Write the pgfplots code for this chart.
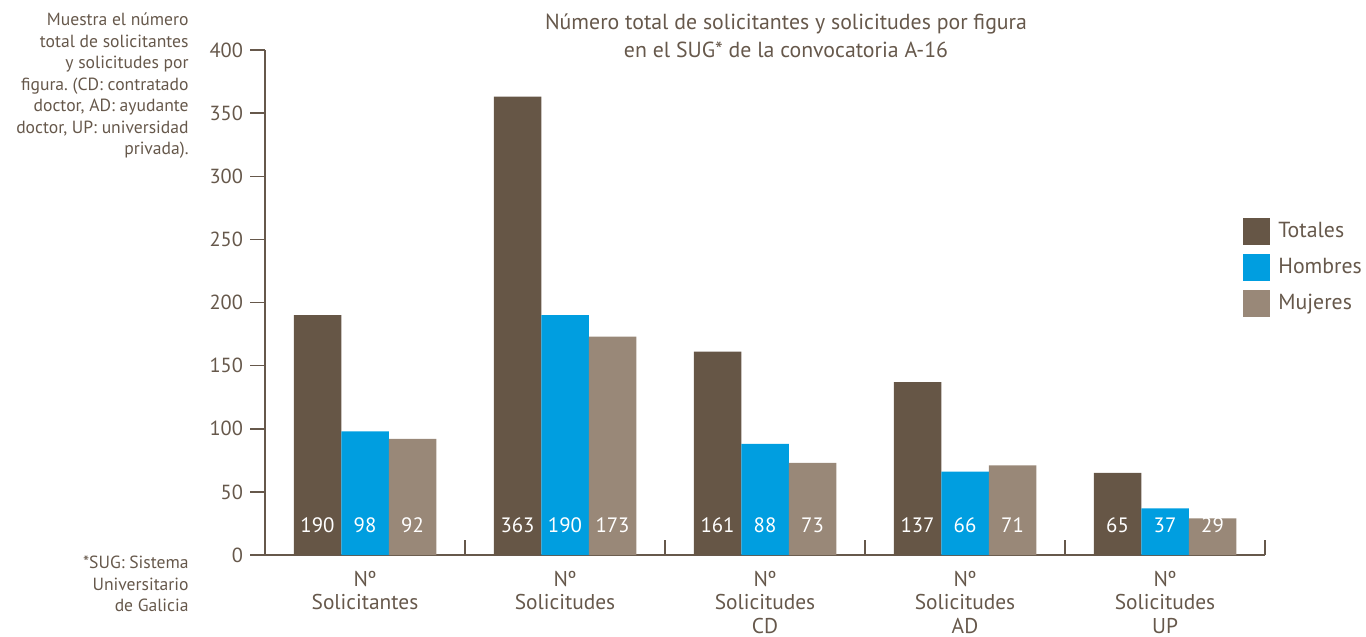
\documentclass[border=0pt]{standalone}
\usepackage{fontspec}
\setmainfont{PT Sans}
\usepackage{pgfplots}
\pgfplotsset{compat=1.18}
\definecolor{txt}{HTML}{66584B}
\definecolor{cTot}{HTML}{665646}
\definecolor{cHom}{HTML}{009EE0}
\definecolor{cMuj}{HTML}{998878}
\pgfkeys{/pgf/number format/assume math mode=true}
\frenchspacing

\begin{document}
\begin{tikzpicture}
\useasboundingbox (0pt,0pt) rectangle (683pt,318.5pt);
% side notes
\node[anchor=east, align=right, inner sep=0pt, text=txt,
      font=\fontsize{8.8}{10.75}\selectfont] at (94.5pt,275.5pt)
  {Muestra el número\\total de solicitantes\\y solicitudes por\\figura. (CD: contratado\\doctor, AD: ayudante\\doctor, UP: universidad\\privada).};
\node[anchor=east, align=right, inner sep=0pt, text=txt,
      font=\fontsize{8.8}{10.75}\selectfont] at (94.5pt,26.5pt)
  {*SUG: Sistema\\Universitario\\de Galicia};
\node[align=center, inner sep=0pt, text=txt,
      font=\fontsize{10.9}{14}\selectfont] at (393pt,300.5pt)
  {Número total de solicitantes y solicitudes por figura\\en el SUG* de la convocatoria A-16};

\begin{axis}[
    at={(132.5pt,41pt)}, anchor=south west,
    scale only axis, width=500pt, height=252.5pt,
    ybar=0pt, bar width=0.2375,
    xmin=-0.5, xmax=4.5, ymin=0, ymax=400,
    enlargelimits=false,
    axis lines*=left,
    axis line style={txt, line width=0.75pt, -},
    tick style={txt, line width=0.75pt},
    tick align=outside,
    major tick length=7.5pt,
    minor tick length=7.5pt,
    xtick={0,1,2,3,4},
    xticklabels={{Nº\\Solicitantes},{Nº\\Solicitudes},{Nº\\Solicitudes\\CD},{Nº\\Solicitudes\\AD},{Nº\\Solicitudes\\UP}},
    major x tick style={draw=none},
    minor xtick={0.5,1.5,2.5,3.5,4.5},
    minor x tick style={yshift=7.5pt},
    ytick={0,50,...,400},
    x tick label style={align=center, text=txt, yshift=3pt,
        font=\fontsize{10.7}{11.8}\selectfont},
    y tick label style={text=txt, font=\fontsize{10.2}{12}\selectfont},
    every axis plot/.append style={draw=none},
    nodes near coords,
    visualization depends on={y \as \rawy},
    every node near coord/.append style={anchor=center, text=white,
        font=\fontsize{10.4}{12}\selectfont,
        shift={(axis direction cs:0,-\rawy)}, yshift=15pt},
    legend style={at={(0.978,0.669)}, anchor=north west, draw=none, fill=none,
        inner sep=0pt, row sep=4.5pt, column sep=4pt,
        font=\fontsize{10.9}{12}\selectfont, text=txt,
        nodes={inner sep=0pt}},
    legend cell align=left,
    legend image code/.code={\fill[#1] (0pt,-6.75pt) rectangle (13.5pt,6.75pt);},
]
\addplot[fill=cTot] coordinates {(0,190) (1,363) (2,161) (3,137) (4,65)};
\addplot[fill=cHom] coordinates {(0,98) (1,190) (2,88) (3,66) (4,37)};
\addplot[fill=cMuj] coordinates {(0,92) (1,173) (2,73) (3,71) (4,29)};
\legend{Totales,Hombres,Mujeres}
\end{axis}
\end{tikzpicture}
\end{document}
